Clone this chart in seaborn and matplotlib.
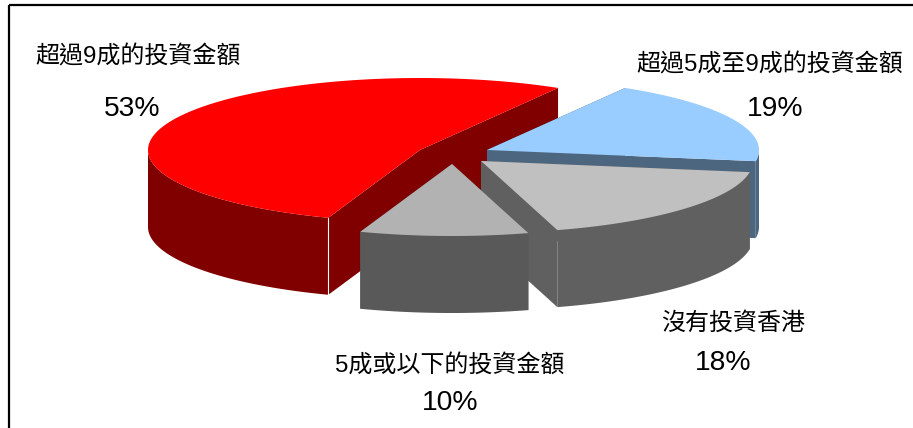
import matplotlib
matplotlib.use("Agg")
import matplotlib.pyplot as plt
import numpy as np
import seaborn as sns

# order follows the pie, counter-clockwise from the top right corner of the red slice
categories = ["超過9成的投資金額", "5成或以下的投資金額", "沒有投資香港", "超過5成至9成的投資金額"]
shares = [53, 10, 18, 19]
share_labels = ["53%", "10%", "18%", "19%"]

top_colors = ["#FF0000", "#B2B2B2", "#C0C0C0", "#99CCFF"]
side_colors = ["#800000", "#595959", "#606060", "#4D6680"]

# exploded slice apex, in pixels
apexes = [(420, 150), (452, 164), (481, 161), (487, 150)]
draw_order = [0, 3, 2, 1]
label_pos = [(138, 57), (450, 365), (733, 323), (770, 65)]
share_pos = [(132, 109), (450, 403), (723, 363), (775, 109)]

RX, RY, DEPTH = 272, 72, 77
START = 59.5


def rim(apex, t, drop=0):
    t = np.radians(t)
    return apex[0] + RX * np.cos(t), apex[1] - RY * np.sin(t) + drop


def draw_slice(ax, apex, a0, a1, top, side):
    # the two cut walls
    for a in (a0, a1):
        x, y = rim(apex, a)
        ax.fill([apex[0], x, x, apex[0]], [apex[1], y, y + DEPTH, apex[1] + DEPTH],
                color=side, lw=0)
    # outer wall, only the part facing the viewer
    for lo, hi in ((180, 360), (540, 720)):
        b0, b1 = max(a0, lo), min(a1, hi)
        if b1 > b0:
            ts = np.linspace(b0, b1, 120)
            xs, ys = rim(apex, ts)
            ax.fill(np.r_[xs, xs[::-1]], np.r_[ys, ys[::-1] + DEPTH], color=side, lw=0)
    ts = np.linspace(a0, a1, 200)
    xs, ys = rim(apex, ts)
    ax.fill(np.r_[apex[0], xs], np.r_[apex[1], ys], color=top, lw=0)


sns.set_theme(style="white")
plt.rcParams["font.family"] = ["Liberation Sans", "Noto Sans CJK TC", "DejaVu Sans"]

fig = plt.figure(figsize=(9.13, 4.28), dpi=100)
ax = fig.add_axes([0, 0, 1, 1])
ax.set_xlim(0, 913)
ax.set_ylim(428, 0)
ax.axis("off")

ax.plot([9, 9], [5, 428], color="black", lw=1.6, solid_capstyle="butt")
ax.plot([9, 913], [5, 5], color="black", lw=1.6, solid_capstyle="butt")

ends = START + np.cumsum(shares) * 3.6
starts = np.r_[START, ends[:-1]]
for i in draw_order:
    draw_slice(ax, apexes[i], starts[i], ends[i], top_colors[i], side_colors[i])

# thin highlight on the red slice front corner
x, y = rim(apexes[0], ends[0])
ax.plot([x, x], [y, y + DEPTH], color="white", lw=0.8)

for name, pct, lp, sp in zip(categories, share_labels, label_pos, share_pos):
    ax.text(lp[0], lp[1], name, ha="center", va="center", fontsize=17.3, color="black")
    ax.text(sp[0], sp[1], pct, ha="center", va="center", fontsize=20.3, color="black")

fig.savefig("out.png", dpi=100)
